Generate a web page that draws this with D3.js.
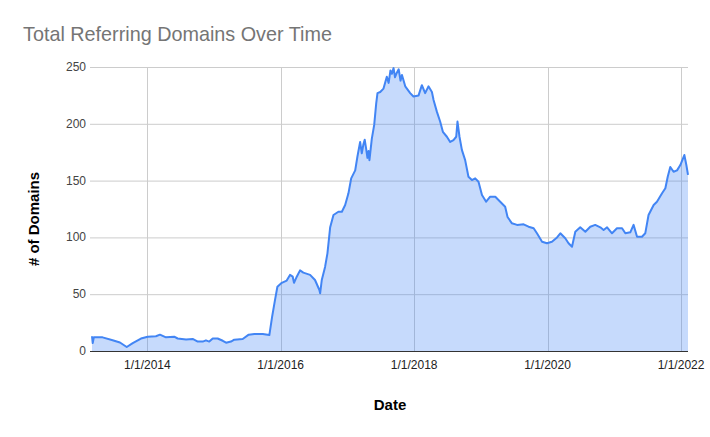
<!DOCTYPE html>
<html>
<head>
<meta charset="utf-8">
<script src="https://cdn.jsdelivr.net/npm/d3@7"></script>
<style>
  body { margin: 0; background: #fff; }
  #chart text { font-family: Arial, "Liberation Sans", sans-serif; }
</style>
</head>
<body>
<div id="chart"></div>
<script>
var dates = [
  "2013-03-04","2013-03-08","2013-03-14","2013-05-01","2013-06-25","2013-08-04","2013-09-10","2013-10-13","2013-11-27",
  "2014-01-03","2014-02-17","2014-03-11","2014-04-13","2014-05-28","2014-06-16","2014-08-01","2014-09-06","2014-10-04",
  "2014-10-31","2014-11-18","2014-12-06","2014-12-25","2015-01-21","2015-02-18","2015-03-08","2015-04-04","2015-04-22",
  "2015-06-07","2015-07-10","2015-08-10","2015-09-25","2015-10-31","2015-11-15","2015-12-01","2015-12-14","2016-01-07",
  "2016-02-03","2016-02-21","2016-03-07","2016-03-14","2016-03-29","2016-04-16","2016-05-04","2016-06-10","2016-07-07",
  "2016-07-31","2016-08-04","2016-08-13","2016-08-31","2016-09-13","2016-09-28","2016-10-16","2016-11-12","2016-12-01",
  "2016-12-19","2017-01-06","2017-01-21","2017-02-12","2017-02-24","2017-03-11","2017-03-20","2017-03-29","2017-04-05",
  "2017-04-13","2017-04-20","2017-04-26","2017-05-01","2017-05-14","2017-05-27","2017-06-07","2017-06-14","2017-06-29",
  "2017-07-17","2017-08-04","2017-08-14","2017-08-24","2017-09-01","2017-09-10","2017-09-18","2017-09-28","2017-10-08",
  "2017-10-18","2017-10-26","2017-11-13","2017-12-10","2017-12-28","2018-01-25","2018-02-12","2018-03-02","2018-03-20",
  "2018-04-08","2018-04-17","2018-05-05","2018-05-23","2018-06-07","2018-06-29","2018-07-17","2018-08-04","2018-08-19",
  "2018-08-26","2018-09-06","2018-09-19","2018-10-07","2018-10-25","2018-11-13","2018-12-01","2018-12-19","2019-01-07",
  "2019-01-30","2019-02-21","2019-03-21","2019-04-17","2019-05-14","2019-05-27","2019-06-20","2019-07-18","2019-08-23",
  "2019-09-19","2019-10-17","2019-11-04","2019-12-02","2019-12-29","2020-01-25","2020-02-22","2020-03-11","2020-04-07",
  "2020-04-25","2020-05-14","2020-06-01","2020-06-28","2020-07-26","2020-08-22","2020-09-18","2020-10-16","2020-11-03",
  "2020-11-22","2020-12-19","2021-01-15","2021-02-12","2021-03-02","2021-03-29","2021-04-16","2021-05-05","2021-06-01",
  "2021-06-19","2021-07-07","2021-08-04","2021-08-22","2021-09-19","2021-10-07","2021-10-20","2021-11-03","2021-11-21",
  "2021-12-10","2021-12-28","2022-01-19","2022-01-30","2022-02-08"
];

// referring domains at those dates
var domains = [
  13, 7, 12, 12, 9.5, 7.5, 3.5, 7, 11,
  12.6, 13, 14.4, 12, 12.6, 11, 10.2, 10.6, 8.3,
  8.3, 9.4, 8.3, 11, 11, 9, 7.3, 8.3, 10,
  10.6, 14.4, 15, 15, 14, 30, 45, 56.6, 60,
  62, 67, 65.4, 60, 65.4, 71, 69, 67, 62.5,
  53.7, 50.8, 62.5, 74, 86, 109, 119.7, 122.6, 122.6,
  128.5, 138.8, 152, 159, 171, 184, 174, 182, 186,
  178, 170, 176, 168, 187, 199, 218, 227, 228,
  231, 241.5, 236, 247, 244, 249, 241, 245, 248,
  238, 243, 233, 227, 224, 225, 234, 227, 233,
  228, 221, 210.7, 202, 193, 188.6, 184, 185.7, 188.6,
  202, 188.6, 177, 168, 153.4, 150.5, 152, 149, 137.3,
  131.4, 135.8, 135.8, 131.4, 127, 118, 112.4, 111, 111.5,
  109.4, 108, 103.6, 96.2, 94.8, 96.2, 100, 103.6, 99.2,
  94.8, 91.8, 105, 108.9, 105, 109.4, 111, 108.9, 106.5,
  108.9, 103.6, 108, 108, 103.6, 104.5, 111, 100.6, 100.6,
  103.6, 119.7, 128.5, 131.4, 138.8, 143.2, 153.4, 162, 157.8,
  159, 163.7, 172.5, 163.7, 155
];

var xTickDates = ["2014-01-01", "2016-01-01", "2018-01-01", "2020-01-01", "2022-01-01"];
var yTicks = [0, 50, 100, 150, 200, 250];

var parseDate = d3.utcParse("%Y-%m-%d");
var fmtDate = d3.utcFormat("%-m/%-d/%Y");

var data = dates.map(function (d, i) { return { date: parseDate(d), value: domains[i] }; });

var width = 710, height = 437;
var margin = { top: 67, right: 22, bottom: 86, left: 92 };
var w = width - margin.left - margin.right,
    h = height - margin.top - margin.bottom;

var svg = d3.select("#chart")
    .append("svg")
        .attr("width", width)
        .attr("height", height);

var g = svg.append("g")
    .attr("transform", "translate(" + margin.left + "," + margin.top + ")");

var x = d3.scaleUtc()
    .domain(d3.extent(data, function (d) { return d.date; }))
    .range([0, w]);

var y = d3.scaleLinear()
    .domain([0, 250])
    .range([h, 0]);

// gridlines first, area is drawn over them
g.selectAll(".hgrid")
    .data(yTicks.filter(function (d) { return d > 0; }))
    .enter().append("line")
    .attr("x1", -2).attr("x2", w)
    .attr("y1", function (d) { return y(d) + 0.5; })
    .attr("y2", function (d) { return y(d) + 0.5; })
    .attr("stroke", "#cccccc");

g.selectAll(".vgrid")
    .data(xTickDates.map(parseDate))
    .enter().append("line")
    .attr("x1", function (d) { return Math.round(x(d)) + 0.5; })
    .attr("x2", function (d) { return Math.round(x(d)) + 0.5; })
    .attr("y1", 0).attr("y2", h)
    .attr("stroke", "#cccccc");

// area + line
var area = d3.area()
    .x(function (d) { return x(d.date); })
    .y0(y(0))
    .y1(function (d) { return y(d.value); });

var line = d3.line()
    .x(function (d) { return x(d.date); })
    .y(function (d) { return y(d.value); });

g.append("path")
    .datum(data)
    .attr("d", area)
    .attr("fill", "#4285f4")
    .attr("fill-opacity", 0.3);

g.append("path")
    .datum(data)
    .attr("d", line)
    .attr("fill", "none")
    .attr("stroke", "#4285f4")
    .attr("stroke-width", 2)
    .attr("stroke-linejoin", "round");

// baseline
g.append("line")
    .attr("x1", -2).attr("x2", w)
    .attr("y1", y(0) + 0.5).attr("y2", y(0) + 0.5)
    .attr("stroke", "#333333");

// Y tick labels
g.selectAll(".ylab")
    .data(yTicks)
    .enter().append("text")
    .attr("x", -6)
    .attr("y", function (d) { return y(d) + 4; })
    .attr("text-anchor", "end")
    .style("font-size", "12px")
    .attr("fill", "#444444")
    .text(function (d) { return d; });

// X tick labels
g.selectAll(".xlab")
    .data(xTickDates.map(parseDate))
    .enter().append("text")
    .attr("x", function (d) { return x(d); })
    .attr("y", h + 18)
    .attr("text-anchor", "middle")
    .style("font-size", "12px")
    .attr("fill", "#222222")
    .text(function (d) { return fmtDate(d); });

// Title
svg.append("text")
    .attr("x", 23)
    .attr("y", 41)
    .style("font-size", "19.8px")
    .attr("fill", "#757575")
    .text("Total Referring Domains Over Time");

// X axis label
svg.append("text")
    .attr("x", margin.left + w / 2)
    .attr("y", 410)
    .attr("text-anchor", "middle")
    .style("font-size", "15px")
    .style("font-weight", "bold")
    .attr("fill", "#000")
    .text("Date");

// Y axis label
svg.append("text")
    .attr("transform", "translate(39," + (margin.top + h / 2 + 10) + ") rotate(-90)")
    .attr("text-anchor", "middle")
    .style("font-size", "15px")
    .style("font-weight", "bold")
    .attr("fill", "#000")
    .text("# of Domains");
</script>
</body>
</html>
